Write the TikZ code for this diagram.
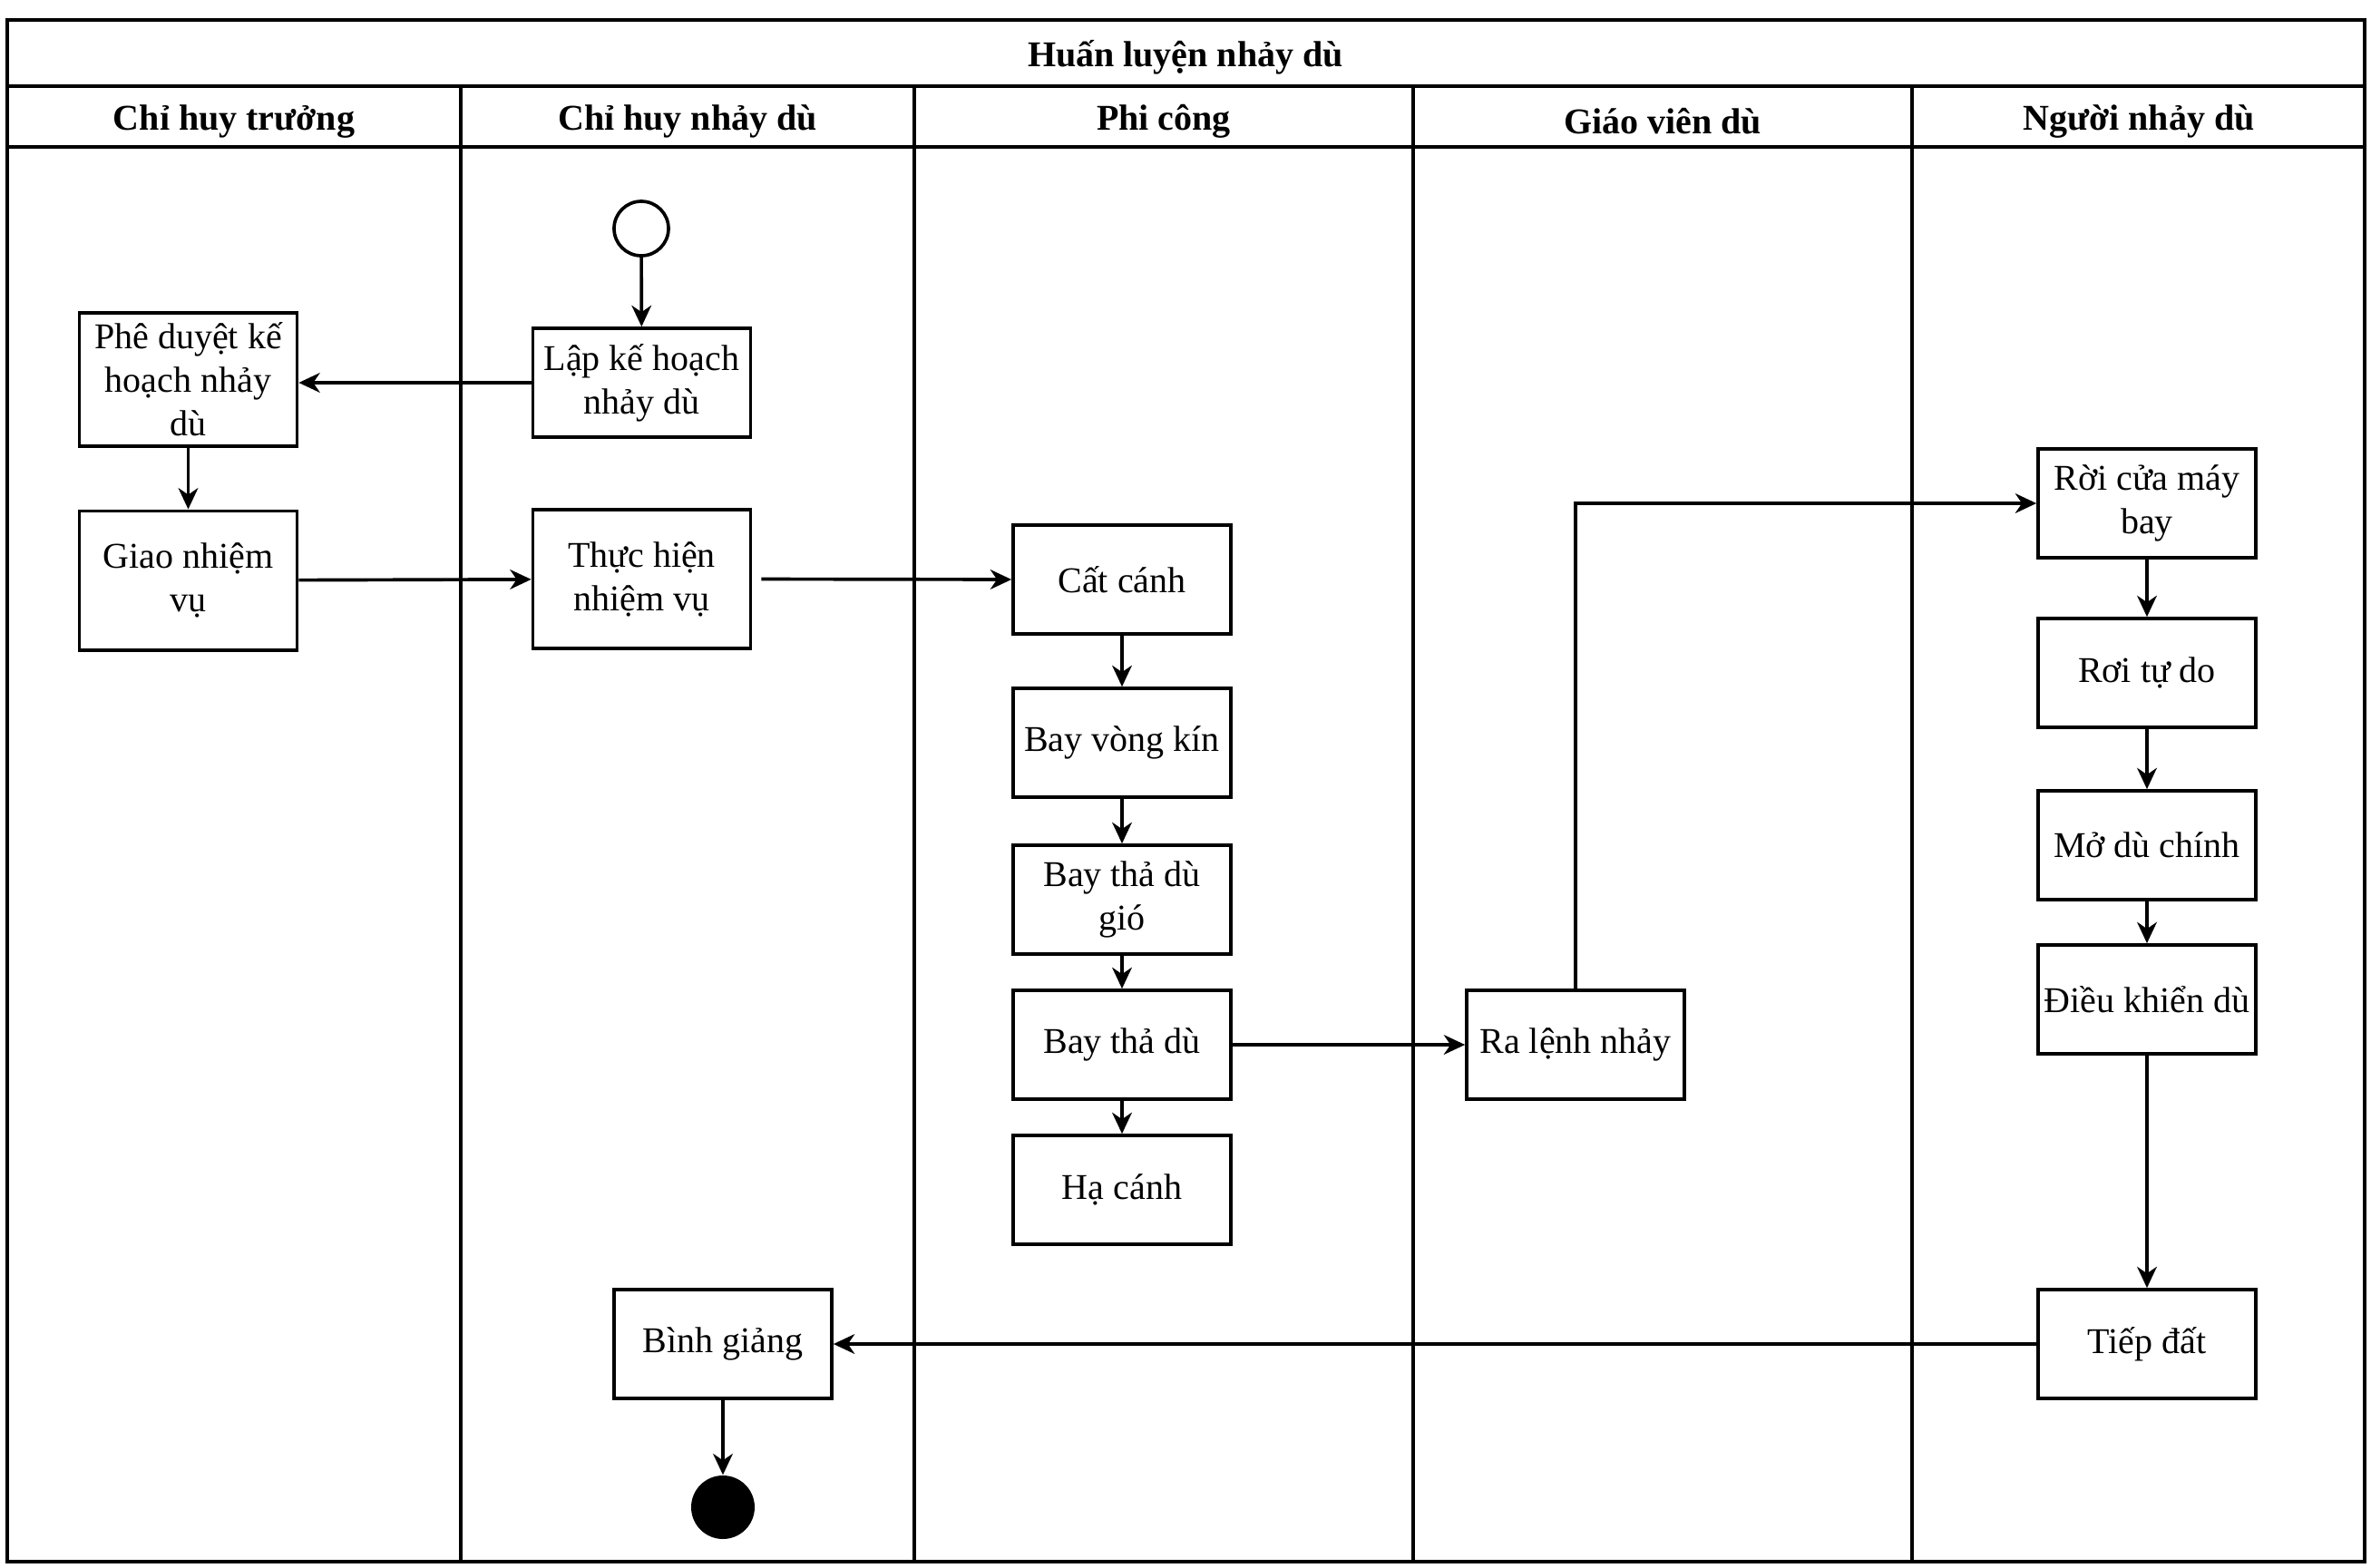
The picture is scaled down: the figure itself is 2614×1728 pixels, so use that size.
\documentclass[tikz,border=0pt]{standalone}
\usepackage{fontspec}
\setmainfont{Liberation Serif}
\usetikzlibrary{arrows.meta}
\begin{document}
\begin{tikzpicture}[x=0.3pt,y=-0.3pt,
  box/.style={draw,line width=1.1pt,minimum width=72pt,minimum height=36pt,align=center,inner sep=1pt,font=\fontsize{12}{14.4}\selectfont},
  lane/.style={font=\bfseries\fontsize{12}{14}\selectfont},
  frame/.style={line width=1.2pt},
  flow/.style={line width=1.1pt,-{Stealth[length=7pt,width=6.5pt,inset=2.2pt]}},
  initial/.style={circle,draw,line width=1.1pt,minimum size=18pt,inner sep=0pt},
  final/.style={circle,fill=black,minimum size=21pt,inner sep=0pt}]
\useasboundingbox (0,0) rectangle (2614,1728);
% pool frame
\draw[frame] (8,22) rectangle (2607,1722);
\draw[frame] (8,95) -- (2607,95);
\draw[frame] (8,162) -- (2607,162);
\foreach \x in {508,1008,1558,2108} \draw[frame] (\x,95) -- (\x,1722);
\node[lane] (title) at (1307,63) {Huấn luyện nhảy dù};
\node[lane] (l1) at (258,134) {Chỉ huy trưởng};
\node[lane] (l2) at (758,134) {Chỉ huy nhảy dù};
\node[lane] (l3) at (1283,134) {Phi công};
\node[lane] (l4) at (1833,134) {Giáo viên dù};
\node[lane] (l5) at (2358,134) {Người nhảy dù};
% nodes
\node[initial] (start) at (707,252) {};
\node[box] (lap) at (707.5,422) {Lập kế hoạch\\nhảy dù};
\node[box,minimum height=44pt] (phe) at (207.5,418.5) {Phê duyệt kế\\hoạch nhảy\\dù};
\node[box,minimum height=46pt] (giao) at (207.5,640) {Giao nhiệm\\vụ};
\node[box,minimum height=46pt] (thuc) at (707.5,638.5) {Thực hiện\\nhiệm vụ};
\node[box] (cat) at (1237,639) {Cất cánh};
\node[box] (vong) at (1237,819) {Bay vòng kín};
\node[box] (gio) at (1237,992) {Bay thả dù\\gió};
\node[box] (tha) at (1237,1152) {Bay thả dù};
\node[box] (ha) at (1237,1312) {Hạ cánh};
\node[box] (ralenh) at (1737,1152) {Ra lệnh nhảy};
\node[box] (roi) at (2367,555) {Rời cửa máy\\bay};
\node[box] (roitd) at (2367,742) {Rơi tự do};
\node[box] (mo) at (2367,932) {Mở dù chính};
\node[box] (dk) at (2367,1102) {Điều khiển dù};
\node[box] (tiep) at (2367,1482) {Tiếp đất};
\node[box] (binh) at (797,1482) {Bình giảng};
\node[final] (end) at (797,1662) {};
% connectors
\draw[flow] (start) -- (lap);
\draw[flow] (lap.west) -- (lap.west -| phe.east);
\draw[flow] (phe) -- (giao);
\draw[flow] (giao) -- (thuc);
\draw[flow,shorten <=3pt] (thuc.east) -- (cat.west);
\draw[flow] (cat) -- (vong);
\draw[flow] (vong) -- (gio);
\draw[flow] (gio) -- (tha);
\draw[flow] (tha) -- (ha);
\draw[flow] (tha) -- (ralenh);
\draw[flow] (ralenh.north) |- (roi.west);
\draw[flow] (roi) -- (roitd);
\draw[flow] (roitd) -- (mo);
\draw[flow] (mo) -- (dk);
\draw[flow] (dk) -- (tiep);
\draw[flow] (tiep) -- (binh);
\draw[flow] (binh) -- (end);
\end{tikzpicture}
\end{document}
